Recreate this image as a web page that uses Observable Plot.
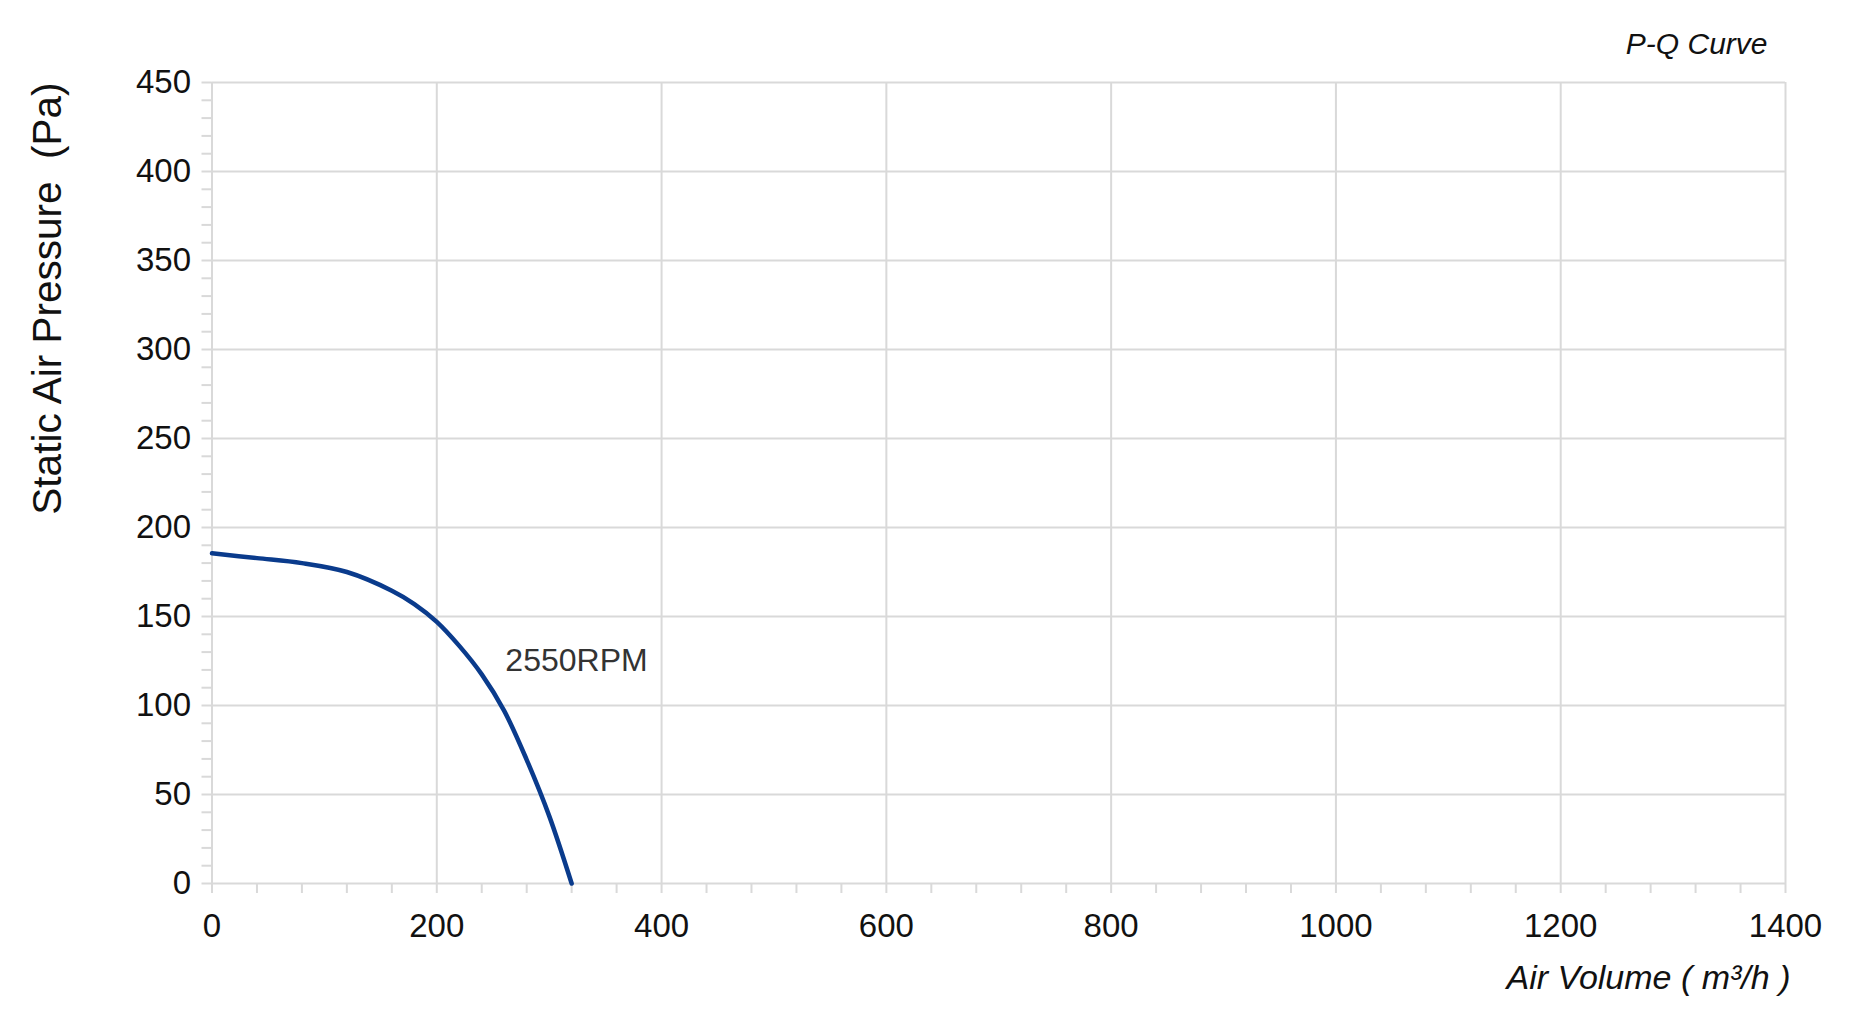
<!DOCTYPE html>
<html>
<head>
<meta charset="utf-8">
<script src="https://cdn.jsdelivr.net/npm/d3@7"></script>
<script src="https://cdn.jsdelivr.net/npm/@observablehq/plot@0.6"></script>
<style>
  html, body { margin: 0; padding: 0; background: #fff; }
  #chart svg { display: block; }
</style>
</head>
<body>
<div id="chart"></div>
<script>
// ---- Data ----
const airVolume = [0, 40, 80, 120, 160, 180, 200, 220, 240, 260, 280, 300, 320];                // m³/h
const staticPressure = [185.5, 182.8, 180, 175, 164.5, 157, 147, 133.5, 117.5, 97, 69.5, 38, 0]; // Pa
const seriesName = "2550RPM";
const seriesLabelAt = [261, 125]; // data coords where the curve label starts
const xTicks = [0, 200, 400, 600, 800, 1000, 1200, 1400];
const yTicks = [0, 50, 100, 150, 200, 250, 300, 350, 400, 450];
const xMinorStep = 40;
const yMinorStep = 10;
const chartTitle = "P-Q Curve";
const xLabel = "Air Volume ( m³/h )";
const yLabel = "Static Air Pressure  (Pa)";

const curve = airVolume.map((q, i) => ({q, p: staticPressure[i]}));
const xMinor = d3.range(0, 1400 + 1e-9, xMinorStep);
const yMinor = d3.range(0, 450 + 1e-9, yMinorStep);

const gridColor = "#d9d9d9";
const font = "Liberation Sans, Arial, Helvetica, sans-serif";

const chart = Plot.plot({
  width: 1851,
  height: 1024,
  marginLeft: 211.5,
  marginRight: 66,
  marginTop: 82,
  marginBottom: 141,
  style: {fontFamily: font, fontSize: "33px", background: "#fff", color: "#111"},
  x: {domain: [0, 1400], label: null},
  y: {domain: [0, 450], label: null},
  marks: [
    Plot.gridX({ticks: xTicks, stroke: gridColor, strokeOpacity: 1, strokeWidth: 2}),
    Plot.gridY({ticks: yTicks, stroke: gridColor, strokeOpacity: 1, strokeWidth: 2}),
    // tick marks (minor + major)
    Plot.axisX({ticks: xMinor, tickSize: 10, stroke: gridColor, strokeWidth: 2, fill: "none", label: null}),
    Plot.axisY({ticks: yMinor, tickSize: 10, stroke: gridColor, strokeWidth: 2, fill: "none", label: null}),
    // tick labels
    Plot.axisX({ticks: xTicks, tickFormat: d => String(d), tickSize: 0, tickPadding: 30, fill: "#111", fontSize: 33, label: null}),
    Plot.axisY({ticks: yTicks, tickFormat: d => String(d), tickSize: 0, tickPadding: 21, fill: "#111", fontSize: 33, label: null}),
    // the P-Q curve
    Plot.line(curve, {x: "q", y: "p", stroke: "#0a3b8c", strokeWidth: 4.5, curve: "catmull-rom"}),
    Plot.text([seriesName], {x: () => seriesLabelAt[0], y: () => seriesLabelAt[1], text: d => d,
      textAnchor: "start", lineAnchor: "middle", fontSize: 32, fill: "#333"}),
    // titles
    Plot.text([chartTitle], {frameAnchor: "top-right", text: d => d, textAnchor: "end", lineAnchor: "middle",
      dx: -18, dy: -38, fontSize: 30, fontStyle: "italic", fill: "#111"}),
    Plot.text([xLabel], {frameAnchor: "bottom-right", text: d => d, textAnchor: "end", lineAnchor: "middle",
      dx: 5, dy: 94.5, fontSize: 34, fontStyle: "italic", fill: "#111"}),
    Plot.text([yLabel], {frameAnchor: "top-left", text: d => d, textAnchor: "end", lineAnchor: "middle",
      rotate: -90, dx: -164, dy: 0, fontSize: 40.5, fill: "#111"})
  ]
});
document.getElementById("chart").appendChild(chart);
</script>
</body>
</html>
